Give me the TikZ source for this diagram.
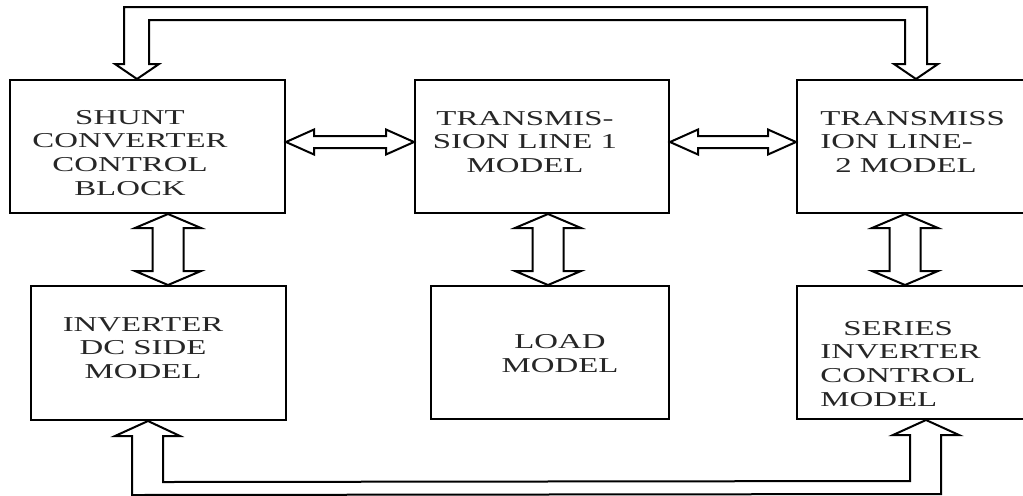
\documentclass[tikz,border=0pt]{standalone}
\usepackage{fontspec}
\setmainfont{Liberation Serif}
\usetikzlibrary{calc,fit}
\newcommand{\wlines}[2]{\scalebox{1.55}[1]{\fontsize{10.6}{11.8}\selectfont\begin{tabular}{@{}#1@{}}#2\end{tabular}}}
\newcommand{\hdbl}[2]{\draw[blk] (#1) -- ($(#1)+(28,-12.5)$) -- ($(#1)+(28,-6)$) -- ($(#2)+(-28,-6)$) -- ($(#2)+(-28,-12.5)$) -- (#2) -- ($(#2)+(-28,12.5)$) -- ($(#2)+(-28,6)$) -- ($(#1)+(28,6)$) -- ($(#1)+(28,12.5)$) -- cycle;}
\newcommand{\vdbl}[2]{\draw[blk] (#1) -- ($(#1)+(33,14)$) -- ($(#1)+(15.5,14)$) -- ($(#2)+(15.5,-14)$) -- ($(#2)+(33,-14)$) -- (#2) -- ($(#2)+(-33,-14)$) -- ($(#2)+(-15.5,-14)$) -- ($(#1)+(-15.5,14)$) -- ($(#1)+(-33,14)$) -- cycle;}
\begin{document}
\begin{tikzpicture}[x=0.5pt,y=-0.5pt,
  box/.style={draw, line width=1pt, inner sep=0pt},
  lbl/.style={inner sep=0pt, text=black!85},
  blk/.style={draw, line width=1pt, line join=miter}]
\useasboundingbox (0,0) rectangle (1023,495);
\clip (0,0) rectangle (1023,495);
\fill[white] (0,0) rectangle (1023,495);

% boxes
\node[box, fit={(10,80) (285,213)}] (shunt) {};
\node[box, fit={(415,80) (669,213)}] (tl1) {};
\node[box, fit={(797,80) (1040,213)}] (tl2) {};
\node[box, fit={(31,286) (286,420)}] (inv) {};
\node[box, fit={(431,286) (669,419)}] (load) {};
\node[box, fit={(797,286) (1040,419)}] (ser) {};

% labels
\node[lbl] (shuntT) at (130,155) {\wlines{c}{SHUNT\\CONVERTER\\CONTROL\\BLOCK}};
\node[lbl] (tl1T) at (525,144) {\wlines{c}{TRANSMIS-\\SION LINE 1\\MODEL}};
\node[lbl, anchor=west] (tl2T) at (820,144) {\wlines{l}{TRANSMISS\\ION LINE-\\\hspace{4.8pt}2 MODEL}};
\node[lbl] (invT) at (143,350) {\wlines{c}{INVERTER\\DC SIDE\\MODEL}};
\node[lbl] (loadT) at (560,356) {\wlines{c}{LOAD\\MODEL}};
\node[lbl, anchor=west] (serT) at (820,366) {\wlines{l}{\hspace{7.4pt}SERIES\\INVERTER\\CONTROL\\MODEL}};

% helper x positions
\coordinate (x137) at (137,0);
\coordinate (x916) at (916,0);
\coordinate (x148) at (148,0);
\coordinate (x926) at (926,0);
\coordinate (x168) at (168,0);
\coordinate (x548) at (548,0);
\coordinate (x905) at (905,0);

% horizontal double arrows
\coordinate (h1a) at ($(shunt.east)+(0,-4.5)$);
\coordinate (h1b) at ($(tl1.west)+(0,-4.5)$);
\coordinate (h2a) at ($(tl1.east)+(0,-4.5)$);
\coordinate (h2b) at ($(tl2.west)+(0,-4.5)$);
\hdbl{h1a}{h1b}
\hdbl{h2a}{h2b}

% vertical double arrows
\coordinate (v1a) at (shunt.south -| x168);
\coordinate (v1b) at (inv.north -| x168);
\coordinate (v2a) at (tl1.south -| x548);
\coordinate (v2b) at (load.north -| x548);
\coordinate (v3a) at (tl2.south -| x905);
\coordinate (v3b) at (ser.north -| x905);
\vdbl{v1a}{v1b}
\vdbl{v2a}{v2b}
\vdbl{v3a}{v3b}

% top bus with two down arrows
\coordinate (tt1) at (shunt.north -| x137);
\coordinate (tt2) at (tl2.north -| x916);
\draw[blk] ($(tt1)+(-13,-15)$) -- ($(tt1)+(-13,-72)$) -- ($(tt2)+(11,-72)$) -- ($(tt2)+(11,-15)$) -- ($(tt2)+(22,-15)$) -- (tt2) -- ($(tt2)+(-22,-15)$) -- ($(tt2)+(-11,-15)$) -- ($(tt2)+(-11,-59)$) -- ($(tt1)+(12,-59)$) -- ($(tt1)+(12,-15)$) -- ($(tt1)+(22,-15)$) -- (tt1) -- ($(tt1)+(-22,-15)$) -- cycle;

% bottom bus with two up arrows
\coordinate (bt1) at (inv.south -| x148);
\coordinate (bt2) at (ser.south -| x926);
\draw[blk] (bt1) -- ($(bt1)+(32,15)$) -- ($(bt1)+(15,15)$) -- ($(bt1)+(15,61)$) -- ($(bt2)+(-16,61)$) -- ($(bt2)+(-16,15)$) -- ($(bt2)+(-33,15)$) -- (bt2) -- ($(bt2)+(33,15)$) -- ($(bt2)+(15,15)$) -- ($(bt2)+(15,74)$) -- ($(bt1)+(-16,74)$) -- ($(bt1)+(-16,15)$) -- ($(bt1)+(-33,15)$) -- cycle;
\end{tikzpicture}
\end{document}
